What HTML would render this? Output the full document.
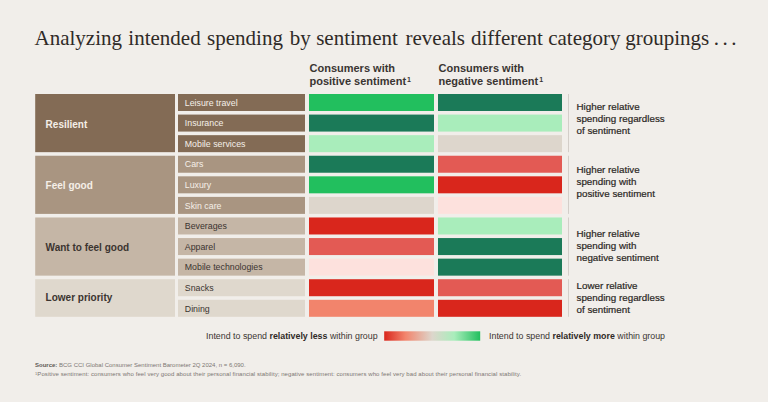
<!DOCTYPE html>
<html><head><meta charset="utf-8">
<style>
html,body{margin:0;padding:0;}
body{width:768px;height:402px;background:#f1eeea;position:relative;overflow:hidden;font-family:"Liberation Sans",sans-serif;}
.t{position:absolute;top:26.3px;font-family:"Liberation Serif",serif;font-size:21px;color:#2f2a27;white-space:nowrap;line-height:24px;}
.hd{position:absolute;top:61.9px;font-size:11px;font-weight:bold;color:#3a3532;line-height:13.3px;white-space:nowrap;}
.hd sup{font-size:7px;vertical-align:top;position:relative;top:-2px;margin-left:1px;}
.gl{position:absolute;left:45.6px;font-size:10px;font-weight:bold;line-height:12px;white-space:nowrap;}
.cl{position:absolute;left:184.8px;font-size:8.8px;line-height:11px;white-space:nowrap;}
.nt{position:absolute;left:576.5px;font-size:9.8px;line-height:12.1px;color:#2a2623;-webkit-text-stroke:0.2px #2a2623;white-space:nowrap;}
.lg{position:absolute;top:330.2px;font-size:8.85px;line-height:12px;color:#3b3532;white-space:nowrap;}
.lg b{color:#2f2a27;}
.fn{position:absolute;left:35px;font-size:6px;line-height:8px;color:#7d7773;white-space:nowrap;}
.fn b{color:#5e5955}
svg{position:absolute;left:0;top:0;}
</style></head><body>
<svg width="768" height="402" viewBox="0 0 768 402" shape-rendering="geometricPrecision">
<defs><linearGradient id="gr" x1="0" x2="1" y1="0" y2="0">
<stop offset="0" stop-color="#d9261c"/><stop offset="0.22" stop-color="#f2846c"/><stop offset="0.5" stop-color="#ddd6cc"/><stop offset="0.73" stop-color="#a9edbb"/><stop offset="1" stop-color="#22bf5e"/>
</linearGradient></defs>
<rect x="35.2" y="94.00" width="139.80" height="58.16" fill="#836b55"/><rect x="178.0" y="94.00" width="127.00" height="17.0" fill="#836b55"/><rect x="309.0" y="94.00" width="125.00" height="17.0" fill="#22bf5e"/><rect x="438.0" y="94.00" width="124.00" height="17.0" fill="#1b7a58"/><rect x="178.0" y="114.58" width="127.00" height="17.0" fill="#836b55"/><rect x="309.0" y="114.58" width="125.00" height="17.0" fill="#1b7a58"/><rect x="438.0" y="114.58" width="124.00" height="17.0" fill="#a9edbb"/><rect x="178.0" y="135.16" width="127.00" height="17.0" fill="#836b55"/><rect x="309.0" y="135.16" width="125.00" height="17.0" fill="#a9edbb"/><rect x="438.0" y="135.16" width="124.00" height="17.0" fill="#ddd6cc"/><rect x="568.0" y="94.00" width="1" height="58.16" fill="#d3cec9"/><rect x="35.2" y="155.74" width="139.80" height="58.16" fill="#a99581"/><rect x="178.0" y="155.74" width="127.00" height="17.0" fill="#a99581"/><rect x="309.0" y="155.74" width="125.00" height="17.0" fill="#1b7a58"/><rect x="438.0" y="155.74" width="124.00" height="17.0" fill="#e35a54"/><rect x="178.0" y="176.32" width="127.00" height="17.0" fill="#a99581"/><rect x="309.0" y="176.32" width="125.00" height="17.0" fill="#22bf5e"/><rect x="438.0" y="176.32" width="124.00" height="17.0" fill="#d9261c"/><rect x="178.0" y="196.90" width="127.00" height="17.0" fill="#a99581"/><rect x="309.0" y="196.90" width="125.00" height="17.0" fill="#ddd6cc"/><rect x="438.0" y="196.90" width="124.00" height="17.0" fill="#fde1dd"/><rect x="568.0" y="155.74" width="1" height="58.16" fill="#d3cec9"/><rect x="35.2" y="217.48" width="139.80" height="58.16" fill="#c5b6a6"/><rect x="178.0" y="217.48" width="127.00" height="17.0" fill="#c5b6a6"/><rect x="309.0" y="217.48" width="125.00" height="17.0" fill="#d9261c"/><rect x="438.0" y="217.48" width="124.00" height="17.0" fill="#a9edbb"/><rect x="178.0" y="238.06" width="127.00" height="17.0" fill="#c5b6a6"/><rect x="309.0" y="238.06" width="125.00" height="17.0" fill="#e35a54"/><rect x="438.0" y="238.06" width="124.00" height="17.0" fill="#1b7a58"/><rect x="178.0" y="258.64" width="127.00" height="17.0" fill="#c5b6a6"/><rect x="309.0" y="258.64" width="125.00" height="17.0" fill="#fde1dd"/><rect x="438.0" y="258.64" width="124.00" height="17.0" fill="#1b7a58"/><rect x="568.0" y="217.48" width="1" height="58.16" fill="#d3cec9"/><rect x="35.2" y="279.22" width="139.80" height="37.58" fill="#dfd8cd"/><rect x="178.0" y="279.22" width="127.00" height="17.0" fill="#dfd8cd"/><rect x="309.0" y="279.22" width="125.00" height="17.0" fill="#d9261c"/><rect x="438.0" y="279.22" width="124.00" height="17.0" fill="#e35a54"/><rect x="178.0" y="299.80" width="127.00" height="17.0" fill="#dfd8cd"/><rect x="309.0" y="299.80" width="125.00" height="17.0" fill="#f2846c"/><rect x="438.0" y="299.80" width="124.00" height="17.0" fill="#d9261c"/><rect x="568.0" y="279.22" width="1" height="37.58" fill="#d3cec9"/>
<rect x="384.2" y="331.3" width="96" height="9.4" fill="url(#gr)"/>
</svg>
<div class="t" style="left:34.5px">Analyzing</div><div class="t" style="left:128.35px">intended</div><div class="t" style="left:207.1px">spending</div><div class="t" style="left:289.7px">by</div><div class="t" style="left:316.15px">sentiment</div><div class="t" style="left:405.5px">reveals</div><div class="t" style="left:470.95px">different</div><div class="t" style="left:548.2px">category</div><div class="t" style="left:625.25px">groupings</div><div class="t" style="left:713.8px">.</div><div class="t" style="left:722.4px">.</div><div class="t" style="left:731.2px">.</div>
<div class="hd" style="left:309.5px">Consumers with<br>positive sentiment<sup>1</sup></div>
<div class="hd" style="left:438.5px">Consumers with<br>negative sentiment<sup>1</sup></div>
<div class="gl" style="top:118.60px;color:#f5efe8">Resilient</div><div class="cl" style="top:97.70px;color:#f5efe8">Leisure travel</div><div class="cl" style="top:118.28px;color:#f5efe8">Insurance</div><div class="cl" style="top:138.86px;color:#f5efe8">Mobile services</div><div class="gl" style="top:179.80px;color:#f5efe8">Feel good</div><div class="cl" style="top:159.44px;color:#f5efe8">Cars</div><div class="cl" style="top:180.02px;color:#f5efe8">Luxury</div><div class="cl" style="top:200.60px;color:#f5efe8">Skin care</div><div class="gl" style="top:241.90px;color:#3b3430">Want to feel good</div><div class="cl" style="top:221.18px;color:#3b3430">Beverages</div><div class="cl" style="top:241.76px;color:#3b3430">Apparel</div><div class="cl" style="top:262.34px;color:#3b3430">Mobile technologies</div><div class="gl" style="top:291.80px;color:#3b3430">Lower priority</div><div class="cl" style="top:282.92px;color:#3b3430">Snacks</div><div class="cl" style="top:303.50px;color:#3b3430">Dining</div><div class="nt" style="top:101.10px">Higher relative<br>spending regardless<br>of sentiment</div><div class="nt" style="top:164.10px">Higher relative<br>spending with<br>positive sentiment</div><div class="nt" style="top:228.10px">Higher relative<br>spending with<br>negative sentiment</div><div class="nt" style="top:279.60px">Lower relative<br>spending regardless<br>of sentiment</div>
<div class="lg" style="left:206px">Intend to spend <b>relatively less</b> within group</div>
<div class="lg" style="left:489px">Intend to spend <b>relatively more</b> within group</div>
<div class="fn" style="top:361px"><b>Source:</b> BCG CCI Global Consumer Sentiment Barometer 2Q 2024, n = 6,090.</div>
<div class="fn" style="top:369.6px;letter-spacing:0.078px"><sup style="font-size:4px;vertical-align:top">1</sup>Positive sentiment: consumers who feel very good about their personal financial stability; negative sentiment: consumers who feel very bad about their personal financial stability.</div>
</body></html>
